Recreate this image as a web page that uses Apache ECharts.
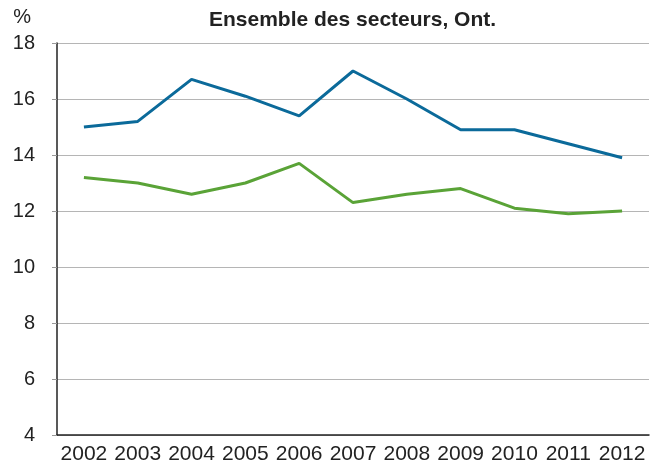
<!DOCTYPE html>
<html>
<head>
<meta charset="utf-8">
<script src="https://cdn.jsdelivr.net/npm/echarts@6/dist/echarts.min.js"></script>
<style>
  html, body { margin: 0; padding: 0; background: #fff; }
  #chart { width: 662px; height: 474px; }
</style>
</head>
<body>
<div id="chart"></div>
<script type="text/javascript">
  // données
  var years = ['2002', '2003', '2004', '2005', '2006', '2007', '2008', '2009', '2010', '2011', '2012'];
  var serieBleue = [15.0, 15.2, 16.7, 16.1, 15.4, 17.0, 16.0, 14.9, 14.9, 14.4, 13.9];
  var serieVerte = [13.2, 13.0, 12.6, 13.0, 13.7, 12.3, 12.6, 12.8, 12.1, 11.9, 12.0];

  var myChart = echarts.init(document.getElementById('chart'));
  var option = {
    animation: false,
    title: {
      text: 'Ensemble des secteurs, Ont.',
      left: 204,
      top: 5,
      textStyle: { fontFamily: 'Liberation Sans', fontSize: 21, fontWeight: 'bold', color: '#222' }
    },
    grid: { left: 57, right: 13, top: 43, bottom: 39 },
    xAxis: {
      type: 'category',
      data: years,
      boundaryGap: true,
      axisLine: { lineStyle: { color: '#222', width: 1.5 } },
      axisTick: { length: 6, lineStyle: { color: '#999' } },
      axisLabel: { interval: 0, fontFamily: 'Liberation Sans', fontSize: 21, color: '#222', margin: 9 }
    },
    yAxis: {
      type: 'value',
      min: 4,
      max: 18,
      interval: 2,
      name: '%',
      nameLocation: 'end',
      nameGap: 16,
      nameTextStyle: { fontFamily: 'Liberation Sans', fontSize: 20, color: '#222', align: 'right', padding: [0, 26, 0, 0] },
      axisLine: { show: true, lineStyle: { color: '#222', width: 1.5 } },
      axisTick: { show: true, length: 5, lineStyle: { color: '#999' } },
      axisLabel: { fontFamily: 'Liberation Sans', fontSize: 20, color: '#222', margin: 22 },
      splitLine: { lineStyle: { color: '#b5b5b5', width: 1 } }
    },
    series: [
      {
        name: 'bleue',
        type: 'line',
        data: serieBleue,
        symbol: 'none',
        lineStyle: { color: '#0b6a9a', width: 3 }
      },
      {
        name: 'verte',
        type: 'line',
        data: serieVerte,
        symbol: 'none',
        lineStyle: { color: '#5aa337', width: 3 }
      }
    ]
  };
  myChart.setOption(option);
</script>
</body>
</html>
